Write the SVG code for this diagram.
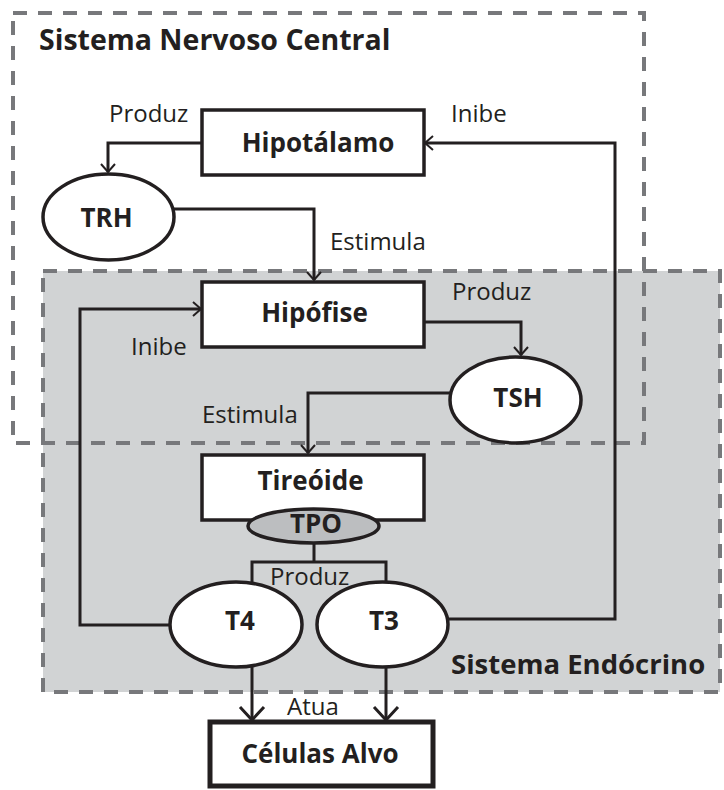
<svg xmlns="http://www.w3.org/2000/svg" width="724" height="790" viewBox="0 0 724 790">
<style>
.dash{fill:none;stroke:#77787b;stroke-width:4;stroke-dasharray:14 11}
.box{fill:#fff;stroke:#231f20;stroke-width:3.5}
.ell{fill:#fff;stroke:#231f20;stroke-width:3.5}
.tpo{fill:#bcbec0;stroke:#231f20;stroke-width:3.5}
.con{fill:none;stroke:#231f20;stroke-width:3}
.b{font-family:"Open Sans","Liberation Sans",sans-serif;font-weight:700;fill:#231f20;font-size:26px;text-anchor:middle}
.t{font-family:"Open Sans","Liberation Sans",sans-serif;font-weight:700;fill:#231f20;font-size:28.5px}
.l{font-family:"Open Sans","Liberation Sans",sans-serif;font-weight:400;fill:#231f20;font-size:24px}
</style>
<defs>
<marker id="sa" markerUnits="userSpaceOnUse" markerWidth="20" markerHeight="20" refX="10" refY="10" orient="auto" overflow="visible">
<path d="M2,3 L10,10 L2,17" fill="none" stroke="#231f20" stroke-width="2"/>
</marker>
<marker id="la" markerUnits="userSpaceOnUse" markerWidth="30" markerHeight="30" refX="15" refY="15" orient="auto" overflow="visible">
<path d="M2,3 L15,15 L2,27" fill="none" stroke="#231f20" stroke-width="3"/>
</marker>
</defs>
<rect width="724" height="790" fill="#fff"/>
<g id="sistema-endocrino">
<rect x="43" y="271" width="677" height="421" fill="#d1d3d4"/>
<rect class="dash" x="43" y="271" width="677" height="421"/>
<text class="t" x="451" y="674" style="font-size:27.5px">Sistema Endócrino</text>
</g>
<g id="sistema-nervoso-central">
<rect class="dash" x="13" y="13" width="631" height="430"/>
<text class="t" x="39" y="50">Sistema Nervoso Central</text>
</g>
<g id="connectors">
<path class="con" d="M202,143 H108 V172" marker-end="url(#sa)"/>
<path class="con" d="M174,209 H314 V280" marker-end="url(#sa)"/>
<path class="con" d="M424,322 H521 V355" marker-end="url(#sa)"/>
<path class="con" d="M450,393 H308 V453" marker-end="url(#sa)"/>
<path class="con" d="M170,625 H80 V309 H201" marker-end="url(#sa)"/>
<path class="con" d="M448,619 H615 V143 H425" marker-end="url(#sa)"/>
<path class="con" d="M314,543 V562 M252,583 V562 H386 V583"/>
<path class="con" d="M252,667 V720" marker-end="url(#la)"/>
<path class="con" d="M386,667 V720" marker-end="url(#la)"/>
<text class="l" x="109" y="122">Produz</text>
<text class="l" x="451" y="122">Inibe</text>
<text class="l" x="330" y="250">Estimula</text>
<text class="l" x="452" y="300">Produz</text>
<text class="l" x="131" y="355">Inibe</text>
<text class="l" x="202" y="423">Estimula</text>
<text class="l" x="270" y="585">Produz</text>
<text class="l" x="287" y="715">Atua</text>
</g>
<g id="hipotalamo">
<rect class="box" x="202" y="110" width="222" height="65"/>
<text class="b" x="318" y="152">Hipotálamo</text>
</g>
<g id="trh">
<ellipse class="ell" cx="108.5" cy="217" rx="65.5" ry="43"/>
<text class="b" x="106.5" y="227">TRH</text>
</g>
<g id="hipofise">
<rect class="box" x="202" y="282" width="222" height="65"/>
<text class="b" x="314.5" y="322">Hipófise</text>
</g>
<g id="tsh">
<ellipse class="ell" cx="515.5" cy="400" rx="65.5" ry="43"/>
<text class="b" x="518" y="407">TSH</text>
</g>
<g id="tireoide">
<rect class="box" x="202" y="455" width="222" height="65"/>
<text class="b" x="310.5" y="490">Tireóide</text>
</g>
<g id="tpo">
<ellipse class="tpo" cx="313.5" cy="526" rx="65.5" ry="17"/>
<text class="b" x="316" y="533">TPO</text>
</g>
<g id="t4">
<ellipse class="ell" cx="236" cy="624.5" rx="66" ry="42.5"/>
<text class="b" x="240" y="630">T4</text>
</g>
<g id="t3">
<ellipse class="ell" cx="382.5" cy="624.5" rx="65.5" ry="42.5"/>
<text class="b" x="384" y="630">T3</text>
</g>
<g id="celulas-alvo">
<rect x="210" y="722" width="223" height="64" fill="#fff" stroke="#231f20" stroke-width="5"/>
<text class="b" x="320" y="763">Células Alvo</text>
</g>
</svg>
